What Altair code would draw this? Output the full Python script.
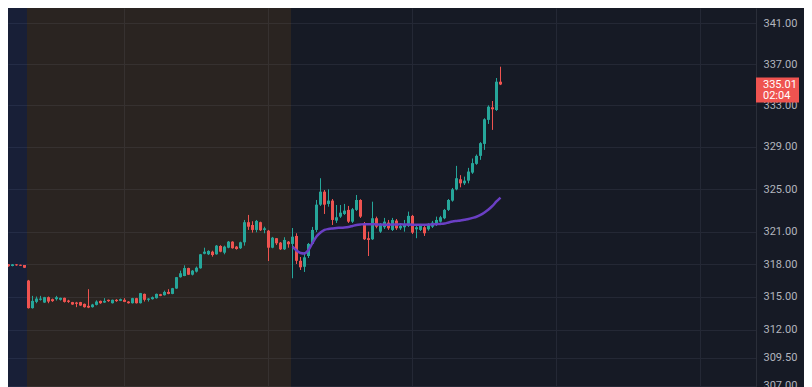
import altair as alt
import pandas as pd

# ---------------- data (5-minute bars; bar 0 = 04:00 pre-market open) ----------------
bar_index = list(range(-7, 119))

open_ = [
    318.11, 317.93, 317.99, 317.84, 317.99, 317.95, 317.93,
    316.50, 313.98, 314.55, 314.74, 314.49, 314.98, 314.80, 314.80, 314.74, 314.92,
    314.67, 314.53, 314.49, 314.53, 314.37, 314.19, 314.07, 314.28, 314.64, 314.49,
    314.74, 314.43, 314.74, 314.64, 314.74, 314.58, 314.43, 314.89, 314.43, 315.28,
    314.74, 314.80, 314.89, 315.25, 315.16, 315.46, 315.28, 315.77, 316.81, 316.92,
    317.65, 317.04, 317.32, 317.63, 318.97, 318.92, 319.16, 318.92, 319.69, 319.07,
    319.53, 320.09, 319.63, 319.48, 320.03, 321.90, 321.64, 321.18, 321.90, 321.18,
    321.11, 319.53, 320.41, 320.00, 319.38, 320.09, 319.88, 320.62, 318.32, 317.77,
    318.76, 319.88, 321.18, 323.54, 324.76, 323.61, 323.92, 322.05, 322.42, 322.67,
    323.05, 321.95, 323.05, 323.98, 321.80, 320.41, 320.31, 322.27, 321.02, 321.43,
    321.86, 321.18, 322.05, 321.33, 321.43, 321.55, 322.49, 321.24, 321.18, 321.43,
    321.24, 321.48, 321.64, 321.95, 322.27, 323.05, 323.92, 324.98, 325.93, 325.55,
    325.80, 326.56, 327.39, 328.15, 329.29, 331.59, 332.80, 332.54, 335.28,
]

high = [
    318.14, 318.16, 318.02, 318.02, 318.02, 317.97, 317.93,
    316.56, 315.10, 315.04, 315.10, 315.01, 315.04, 314.85, 315.10, 314.94, 314.94,
    314.74, 314.55, 314.55, 314.55, 314.40, 315.71, 314.37, 314.69, 314.67, 314.89,
    314.76, 314.76, 314.80, 314.85, 314.89, 314.62, 314.92, 314.92, 315.37, 315.31,
    314.89, 315.04, 315.31, 315.28, 315.58, 315.71, 315.83, 316.83, 317.41, 317.90,
    317.68, 317.47, 317.79, 318.95, 319.53, 319.29, 319.25, 319.78, 319.76, 319.72,
    320.15, 320.13, 319.69, 320.09, 322.11, 322.58, 321.99, 322.11, 321.95, 321.48,
    321.18, 320.53, 320.43, 320.06, 320.50, 320.15, 321.36, 320.87, 318.67, 319.13,
    319.97, 321.46, 323.98, 326.03, 324.92, 324.98, 324.07, 323.51, 323.51, 323.61,
    323.42, 323.23, 324.45, 324.05, 321.92, 321.02, 323.82, 322.42, 321.83, 322.30,
    322.11, 322.30, 322.20, 321.74, 322.11, 322.89, 322.58, 321.64, 321.74, 321.55,
    321.80, 322.02, 322.42, 322.49, 323.14, 324.07, 325.11, 327.20, 326.32, 326.18,
    327.01, 327.90, 328.28, 329.46, 331.75, 332.99, 333.41, 335.64, 336.74,
]

low = [
    317.99, 317.88, 317.77, 317.81, 317.86, 317.84, 317.65,
    313.94, 313.94, 314.43, 314.67, 314.46, 314.43, 314.55, 314.67, 314.67, 314.49,
    314.46, 314.28, 314.07, 314.19, 314.03, 313.98, 314.03, 314.23, 314.37, 314.46,
    314.55, 314.40, 314.55, 314.62, 314.53, 314.40, 314.40, 314.40, 314.40, 314.58,
    314.58, 314.76, 314.85, 315.07, 315.13, 315.25, 315.25, 315.74, 316.77, 316.90,
    317.02, 316.97, 317.24, 317.59, 318.92, 318.85, 318.70, 318.88, 319.11, 318.92,
    319.48, 319.44, 319.35, 319.41, 319.72, 321.18, 320.93, 320.96, 321.08, 320.87,
    318.30, 319.48, 319.78, 319.32, 319.32, 319.53, 316.71, 318.02, 317.47, 317.29,
    318.58, 319.78, 320.99, 323.42, 322.67, 323.35, 321.64, 321.83, 322.30, 322.58,
    321.83, 321.83, 322.95, 322.30, 320.25, 318.76, 320.25, 321.33, 320.90, 321.27,
    321.18, 321.08, 321.18, 321.18, 321.02, 321.46, 320.80, 320.41, 321.08, 320.62,
    321.11, 321.36, 321.55, 321.86, 322.18, 322.95, 323.82, 324.89, 325.17, 325.39,
    325.55, 326.44, 327.30, 327.77, 328.72, 331.20, 330.63, 332.45, 334.95,
]

close = [
    318.02, 318.11, 317.81, 317.99, 317.90, 317.86, 317.68,
    313.98, 314.64, 314.85, 314.85, 314.98, 314.58, 314.62, 314.98, 314.92, 314.55,
    314.55, 314.31, 314.37, 314.22, 314.07, 314.03, 314.31, 314.58, 314.43, 314.64,
    314.62, 314.74, 314.62, 314.80, 314.55, 314.43, 314.89, 314.43, 315.35, 314.74,
    314.85, 314.98, 315.28, 315.10, 315.46, 315.28, 315.80, 316.81, 317.17, 317.65,
    317.04, 317.41, 317.68, 318.92, 319.16, 319.23, 318.85, 319.72, 319.16, 319.63,
    320.09, 319.48, 319.41, 320.03, 321.90, 321.48, 321.18, 322.02, 321.15, 321.33,
    319.53, 320.46, 319.94, 319.38, 320.25, 319.85, 320.55, 318.32, 317.72, 318.64,
    319.88, 321.18, 323.54, 324.76, 323.54, 323.92, 322.11, 322.36, 322.79, 322.98,
    321.95, 323.11, 323.98, 322.42, 320.31, 320.25, 322.27, 321.48, 321.64, 321.95,
    321.33, 322.11, 321.33, 321.55, 321.64, 322.49, 320.93, 321.43, 321.55, 320.87,
    321.64, 321.86, 322.11, 322.36, 323.05, 323.98, 324.98, 326.03, 325.55, 325.80,
    326.66, 327.46, 328.15, 329.36, 331.65, 332.86, 332.61, 335.28, 335.01,
]

# moving-average line (regular session only, bars 66..118)
ma_index = list(range(66, 119))
ma_values = [
    319.64, 319.27, 319.04, 318.99, 319.32, 319.97, 320.57, 320.94, 321.18, 321.27,
    321.32, 321.36, 321.38, 321.41, 321.46, 321.55, 321.64, 321.69, 321.72, 321.72,
    321.71, 321.69, 321.68, 321.67, 321.67, 321.68, 321.69, 321.70, 321.69, 321.68,
    321.67, 321.67, 321.66, 321.67, 321.68, 321.70, 321.72, 321.74, 321.78, 321.88,
    321.97, 322.02, 322.06, 322.13, 322.20, 322.30, 322.41, 322.58, 322.81, 323.09,
    323.42, 323.84, 324.21,
]

# extended-hours sessions (in bar units)
session_names = ["post-market", "pre-market"]
session_start = [-12, -0.25]
session_end = [-0.25, 65.75]
session_colors = ["#2962ff", "#ff9800"]

price_ticks = [307, 309.5, 312, 315, 318, 321, 325, 329, 333, 337, 341]
time_grid = [24, 60, 96, 132, 168]  # 06:00, 09:00, 12:00, 15:00, 18:00

last_price = [335.01]
tag_lines = ["335.01", "02:04"]

# ---------------- frames ----------------
candles = pd.DataFrame({"i": bar_index, "o": open_, "h": high, "l": low, "c": close})
ma = pd.DataFrame({"i": ma_index, "v": ma_values})
sessions = pd.DataFrame({"name": session_names, "s": session_start, "e": session_end,
                         "col": session_colors})
tag = pd.DataFrame({"p": last_price, "t1": [tag_lines[0]], "t2": [tag_lines[1]]})

W, H = 748, 379
TEAL, RED = "#26a69a", "#ef5350"

xscale = alt.Scale(domain=[-5, 182], nice=False, zero=False, padding=0)
yscale = alt.Scale(type="log", domain=[306.885, 342.52], nice=False, zero=False, padding=0)

x_axis = alt.Axis(values=time_grid, labels=False, ticks=False, domain=False,
                  grid=True, gridColor="#242835", gridWidth=1, title=None, zindex=0)
y_axis = alt.Axis(orient="right", values=price_ticks, format=".2f", title=None,
                  grid=True, gridColor="#242835", gridWidth=1,
                  ticks=False, domain=True, domainColor="#2a2e39", domainWidth=1,
                  labelColor="#b2b5be", labelFont="Roboto", labelFontSize=11,
                  labelPadding=7, labelOverlap=False, zindex=0)

up = "datum.c >= datum.o"

sess = alt.Chart(sessions).mark_rect(opacity=0.088).encode(
    x=alt.X("s:Q", scale=xscale, axis=x_axis),
    x2="e:Q",
    y=alt.value(0),
    y2=alt.value(H),
    color=alt.Color("col:N", scale=None),
)

wicks = alt.Chart(candles).mark_rule(strokeWidth=1, xOffset=0.5, clip=True).encode(
    x=alt.X("i:Q", scale=xscale, axis=x_axis),
    y=alt.Y("l:Q", scale=yscale, axis=y_axis),
    y2="h:Q",
    color=alt.condition(up, alt.value(TEAL), alt.value(RED)),
)

bodies = alt.Chart(candles).mark_bar(size=3, xOffset=0.5, clip=True).encode(
    x=alt.X("i:Q", scale=xscale, axis=x_axis),
    y=alt.Y("o:Q", scale=yscale, axis=y_axis),
    y2="c:Q",
    color=alt.condition(up, alt.value(TEAL), alt.value(RED)),
)

ma_line = alt.Chart(ma).mark_line(color="#6a3fc4", strokeWidth=2.5,
                                  interpolate="monotone", xOffset=0.5).encode(
    x=alt.X("i:Q", scale=xscale, axis=x_axis),
    y=alt.Y("v:Q", scale=yscale, axis=y_axis),
)

tag_box = alt.Chart(tag).mark_rect(color="#ef5350", yOffset=-7, y2Offset=18).encode(
    x=alt.value(W),
    x2=alt.value(W + 43),
    y=alt.Y("p:Q", scale=yscale, axis=y_axis),
    y2="p:Q",
)

tag_t1 = alt.Chart(tag).mark_text(align="left", baseline="middle", dy=1,
                                  font="Roboto", fontSize=11, color="#ffffff").encode(
    x=alt.value(W + 7),
    y=alt.Y("p:Q", scale=yscale, axis=y_axis),
    text="t1:N",
)
tag_t2 = alt.Chart(tag).mark_text(align="left", baseline="middle", dy=12,
                                  font="Roboto", fontSize=11, color="#ffffff").encode(
    x=alt.value(W + 7),
    y=alt.Y("p:Q", scale=yscale, axis=y_axis),
    text="t2:N",
)

# total width 748 + 48 = 796 fits the page width (812 - 2 * 8px margin)
chart = alt.layer(sess, wicks, bodies, ma_line, tag_box, tag_t1, tag_t2).properties(
    width=W, height=H,
    autosize=alt.AutoSizeParams(type="none"),
    padding={"left": 0, "top": 0, "right": 48, "bottom": 0},
    background="#161a25",
).configure_view(stroke=None)

chart.save("out.html", embed_options={"renderer": "svg", "actions": False})
